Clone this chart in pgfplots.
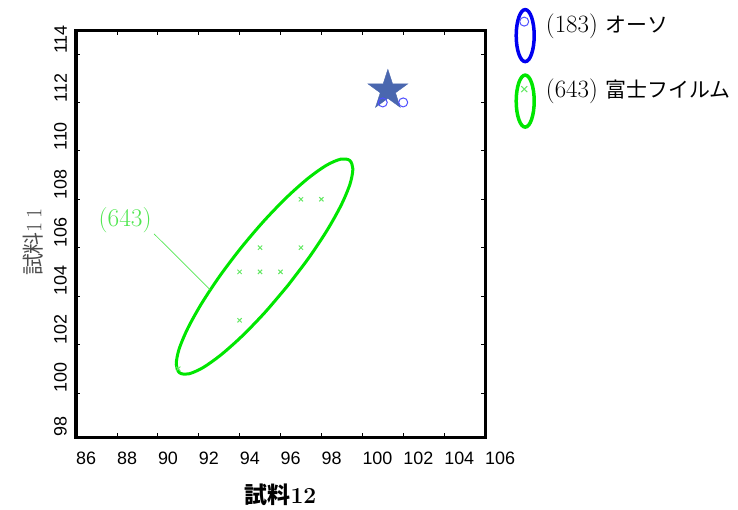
\documentclass[border=0pt]{standalone}
\usepackage{fontspec}
\newfontfamily\cjk{Noto Sans CJK JP}
\newfontfamily\arial{Liberation Sans}
\usepackage{pgfplots}
\pgfplotsset{compat=1.18}

\definecolor{starblue}{RGB}{74,103,175}
\definecolor{circblue}{RGB}{80,80,255}
\definecolor{ellblue}{RGB}{0,0,240}
\definecolor{ellgreen}{RGB}{0,230,0}
\definecolor{xgreen}{RGB}{100,232,100}
\definecolor{labgreen}{RGB}{80,230,80}

% filled five-pointed star
\pgfdeclareplotmark{fstar}{%
  \pgfpathmoveto{\pgfpointpolar{90}{\pgfplotmarksize}}%
  \pgfpathlineto{\pgfpointpolar{126}{0.382\pgfplotmarksize}}%
  \pgfpathlineto{\pgfpointpolar{162}{\pgfplotmarksize}}%
  \pgfpathlineto{\pgfpointpolar{198}{0.382\pgfplotmarksize}}%
  \pgfpathlineto{\pgfpointpolar{234}{\pgfplotmarksize}}%
  \pgfpathlineto{\pgfpointpolar{270}{0.382\pgfplotmarksize}}%
  \pgfpathlineto{\pgfpointpolar{306}{\pgfplotmarksize}}%
  \pgfpathlineto{\pgfpointpolar{342}{0.382\pgfplotmarksize}}%
  \pgfpathlineto{\pgfpointpolar{18}{\pgfplotmarksize}}%
  \pgfpathlineto{\pgfpointpolar{54}{0.382\pgfplotmarksize}}%
  \pgfpathclose
  \pgfusepathqfillstroke
}

\begin{document}
\begin{tikzpicture}
\useasboundingbox (-76bp,-73bp) rectangle (662bp,437bp);
\begin{axis}[
    width=409bp, height=406bp, scale only axis,
    xmin=86, xmax=106, ymin=98.18, ymax=114.95,
    xtick={86,88,...,106},
    ytick={100,102,...,114},
    extra y ticks={98.18}, extra y tick labels={98},
    extra y tick style={major tick length=0pt},
    tick align=inside,
    major tick length=4bp,
    axis line style={line width=3bp},
    tick style={black, line width=0.8bp},
    /pgf/number format/assume math mode=true,
    tick label style={font=\arial\fontsize{18}{20}\selectfont, inner sep=0pt},
    xticklabel style={anchor=north west, yshift=-15bp},
    yticklabel style={xshift=-9bp, rotate=90, anchor=south west},
    xlabel={\bfseries{\cjk 試料}12},
    xlabel style={at={(axis description cs:0.5,-0.143)}, anchor=center,
        font=\fontsize{23}{25}\selectfont},
    ylabel={{\cjk 試料}1\,1},
    ylabel style={at={(axis description cs:-0.105,0.48)}, anchor=center,
        font=\fontsize{22}{24}\selectfont, color=black!70},
    clip=false,
    legend style={at={(rel axis cs:1.072,1.057)}, anchor=north west,
        draw=none, fill=none, inner sep=0pt, outer sep=0pt,
        row sep=10bp,
        font=\fontsize{25}{27}\selectfont,
        nodes={inner sep=1bp},
        /tikz/every odd column/.append style={column sep=9bp}},
    legend cell align=left,
]

% (643) confidence ellipse
\addplot[ellgreen, line width=3bp, smooth, forget plot] coordinates {
    (96.365,104.443) (95.248,103.334) (94.130,102.355) (93.086,101.571)
    (92.187,101.034) (91.494,100.784) (91.056,100.836) (90.902,101.186)
    (91.041,101.812) (91.466,102.669) (92.146,103.701) (93.036,104.836)
    (94.075,105.997) (95.192,107.106) (96.310,108.085) (97.354,108.869)
    (98.253,109.406) (98.946,109.656) (99.384,109.604) (99.538,109.254)
    (99.399,108.628) (98.974,107.771) (98.294,106.739) (97.404,105.604)
    (96.365,104.443)
};

% (643) samples
\addplot[only marks, mark=x, mark size=3bp, xgreen, line width=1bp, forget plot] coordinates {
    (97,108) (98,108) (95,106) (97,106) (94,105) (95,105) (96,105) (94,103) (91,101)
};

% (183) mean and samples
\addplot[only marks, mark=fstar, mark size=21bp, starblue,
    mark options={fill=starblue, draw=starblue}, forget plot] coordinates {(101.25,112.5)};
\addplot[only marks, mark=o, mark size=4.5bp, circblue, line width=1bp, forget plot] coordinates {
    (101,112) (102,112)
};

% label
\addplot[labgreen, line width=0.7bp, forget plot] coordinates {(89.82,106.57) (92.56,104.26)};
\node[labgreen, font=\fontsize{25.5}{27}\selectfont] at (axis cs:88.4,107.15) {(643)};

\addlegendimage{legend image code/.code={
    \draw[ellblue, line width=3.5bp] (0bp,-12bp) ellipse [x radius=9bp, y radius=26bp];
    \draw[circblue, line width=1bp] (-1bp,2bp) circle (4.5bp);
}}
\addlegendentry{(183) {\cjk\fontsize{21}{24}\selectfont オーソ}}
\addlegendimage{legend image code/.code={
    \draw[ellgreen, line width=3.5bp] (0bp,-12bp) ellipse [x radius=9bp, y radius=26bp];
    \draw[xgreen, line width=1bp] (-4bp,-3bp) -- (2bp,3bp) (-4bp,3bp) -- (2bp,-3bp);
}}
\addlegendentry{(643) {\cjk\fontsize{21}{24}\selectfont 富士フイルム}}
\end{axis}
\end{tikzpicture}
\end{document}
